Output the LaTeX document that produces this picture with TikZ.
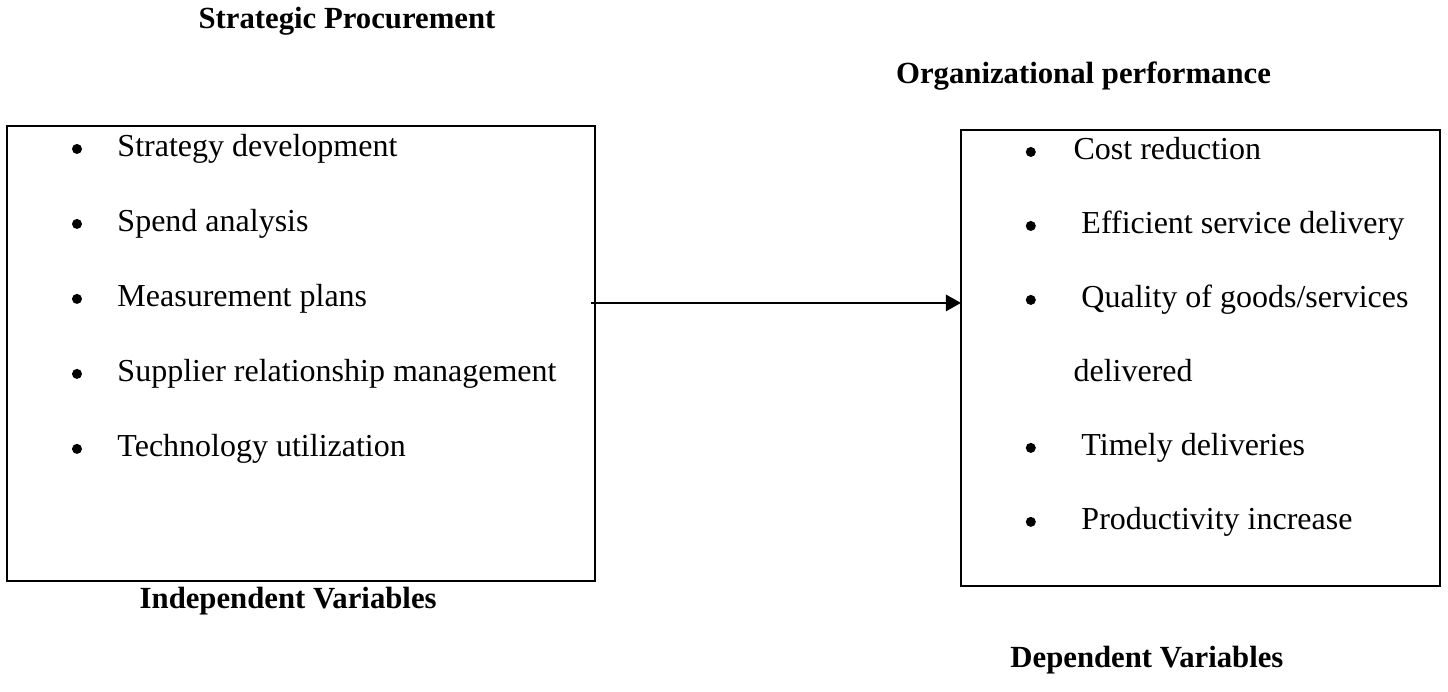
\documentclass[tikz,border=0pt]{standalone}
\usepackage{fontspec}
\setmainfont{Liberation Serif}
\usetikzlibrary{arrows.meta}
\begin{document}
\begin{tikzpicture}[every node/.style={font=\fontsize{12.7}{15}\selectfont}]
	\tikzstyle{box} = [draw,line width=0.8pt,inner sep=0pt,outer sep=0pt];
	\tikzstyle{item} = [anchor=west,inner sep=0pt,text height=0.3cm,text depth=0.1cm];
	\tikzstyle{dot} = [circle,fill,inner sep=0pt,minimum size=0.14cm];
	\tikzstyle{head} = [font=\fontsize{12.2}{14}\selectfont\bfseries];
	\useasboundingbox (0,0) rectangle (20.2,9.653);
	
	\node[head](title1) at (4.84,9.36){Strategic Procurement};
	\node[head](title2) at (15.115,8.593){Organizational performance};
	
	\node[box,minimum width=8.202cm,minimum height=6.348cm](box1) at (4.199,4.722){};
	\node[box,minimum width=6.682cm,minimum height=6.361cm](box2) at (16.747,4.66){};
	
	\foreach \i/\t in {1/Strategy development,2/Spend analysis,3/Measurement plans,4/Supplier relationship management,5/Technology utilization}{
		\node[dot](lb\i) at (1.074,8.621-\i*1.046){};
		\node[item](lt\i) at (1.632,8.621-\i*1.046){\t};
	};
	
	\foreach \i in {1,2,3,5,6}{
		\node[dot](rb\i) at (14.38,8.565-\i*1.032){};
	};
	\node[item](rt1) at (14.97,7.533){Cost reduction};
	\node[item](rt2) at (15.08,6.501){Efficient service delivery};
	\node[item](rt3) at (15.08,5.469){Quality of goods/services};
	\node[item](rt4) at (14.97,4.437){delivered};
	\node[item](rt5) at (15.08,3.405){Timely deliveries};
	\node[item](rt6) at (15.08,2.373){Productivity increase};
	
	\coordinate (a1) at ([xshift=-0.06cm,yshift=0.705cm]box1.east);
	\draw[-{Triangle[length=6pt,width=6.5pt]},line width=0.8pt] (a1) -- (a1 -| box2.west);
	
	\node[head](title3) at (4.02,1.27){Independent Variables};
	\node[head](title4) at (16.0,0.446){Dependent Variables};
\end{tikzpicture}
\end{document}
